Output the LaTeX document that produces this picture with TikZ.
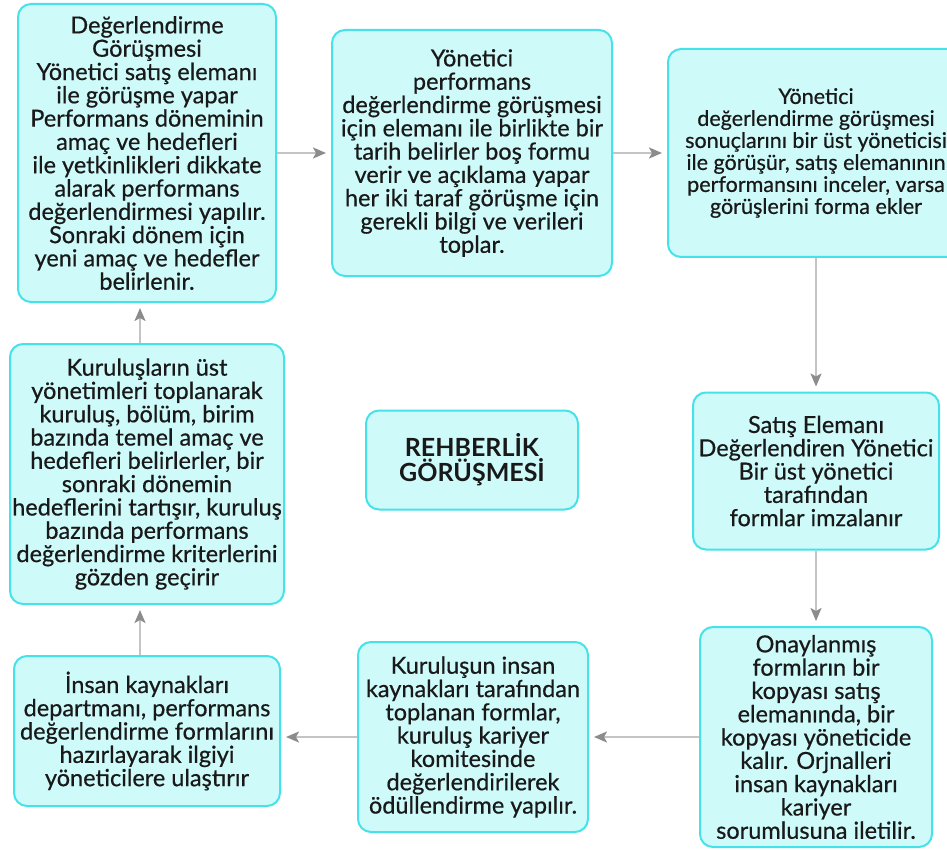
\documentclass[tikz,border=0pt]{standalone}
\usepackage{fontspec}
\setmainfont{Lato}
\newfontfamily\cardfont{Lato}[FakeBold=0.55]
\usetikzlibrary{arrows.meta}
\definecolor{boxfill}{RGB}{206,250,250}
\definecolor{boxline}{RGB}{70,226,234}
\definecolor{arrline}{RGB}{196,196,196}
\definecolor{arrhead}{RGB}{140,140,140}
\definecolor{txt}{RGB}{25,25,25}
\tikzset{
  card/.style={draw=boxline, fill=boxfill, line width=2pt, rounded corners=13pt,
    align=center, inner sep=0pt, text=txt,
    font=\cardfont\fontsize{23.5pt}{23.3pt}\selectfont},
  flow/.style={draw=arrline, line width=2pt, shorten >=5pt, shorten <=0pt,
    -{Stealth[length=13pt,width=11pt,inset=3pt,color=arrhead]}}
}
\begin{document}
\begin{tikzpicture}[x=1pt,y=-1pt]
\useasboundingbox[fill=white] (0,0) rectangle (947,850);

% process steps, clockwise from the top left
\node[card, minimum width=258pt, minimum height=298pt] (b1) at (147,153)
  {Değerlendirme\\Görüşmesi\\Yönetici satış elemanı\\ile görüşme yapar\\Performans döneminin\\amaç ve hedefleri\\ile yetkinlikleri dikkate\\alarak performans\\değerlendirmesi yapılır.\\Sonraki dönem için\\yeni amaç ve hedefler\\belirlenir.};
\node[card, minimum width=280pt, minimum height=246pt] (b2) at (472,153)
  {Yönetici\\performans\\değerlendirme görüşmesi\\için elemanı ile birlikte bir\\tarih belirler boş formu\\verir ve açıklama yapar\\her iki taraf görüşme için\\gerekli bilgi ve verileri\\toplar.};
\node[card, minimum width=296pt, minimum height=208pt,
  font=\cardfont\fontsize{21.5pt}{22pt}\selectfont] (b3) at (816,153)
  {Yönetici\\değerlendirme görüşmesi\\sonuçlarını bir üst yöneticisi\\ile görüşür, satış elemanının\\performansını inceler, varsa\\görüşlerini forma ekler};
\node[card, minimum width=246pt, minimum height=157pt] (b4) at (816,471)
  {Satış Elemanı\\Değerlendiren Yönetici\\Bir üst yönetici\\tarafından\\formlar imzalanır};
\node[card, minimum width=232pt, minimum height=220pt] (b5) at (816,737)
  {Onaylanmış\\formların bir\\kopyası satış\\elemanında, bir\\kopyası yöneticide\\kalır. Orjnalleri\\insan kaynakları\\kariyer\\sorumlusuna iletilir.};
\node[card, minimum width=230pt, minimum height=190pt] (b6) at (473,737)
  {Kuruluşun insan\\kaynakları tarafından\\toplanan formlar,\\kuruluş kariyer\\komitesinde\\değerlendirilerek\\ödüllendirme yapılır.};
\node[card, minimum width=266pt, minimum height=150pt] (b7) at (147,731)
  {İnsan kaynakları\\departmanı, performans\\değerlendirme formlarını\\hazırlayarak ilgiyi\\yöneticilere ulaştırır};
\node[card, minimum width=274pt, minimum height=260pt] (b8) at (147,474)
  {Kuruluşların üst\\yönetimleri toplanarak\\kuruluş, bölüm, birim\\bazında temel amaç ve\\hedefleri belirlerler, bir\\sonraki dönemin\\hedeflerini tartışır, kuruluş\\bazında performans\\değerlendirme kriterlerini\\gözden geçirir};

% title in the middle
\node[card, minimum width=212pt, minimum height=99pt,
  font=\bfseries\fontsize{25pt}{25pt}\selectfont] (c) at (472,460)
  {REHBERLİK\\GÖRÜŞMESİ};

% connectors
\draw[flow] (b1) -- (b2);
\draw[flow] (b2) -- (b3);
\draw[flow] (b3) -- (b4);
\draw[flow] (b4) -- (b5);
\draw[flow] (b5) -- (b6);
\draw[flow] (b6.west) -- (b6.west -| b7.east);
\draw[flow] ([xshift=-7pt]b7.north) -- ([xshift=-7pt]b8.south);
\draw[flow] ([xshift=-7pt]b8.north) -- ([xshift=-7pt]b1.south);
\end{tikzpicture}
\end{document}
